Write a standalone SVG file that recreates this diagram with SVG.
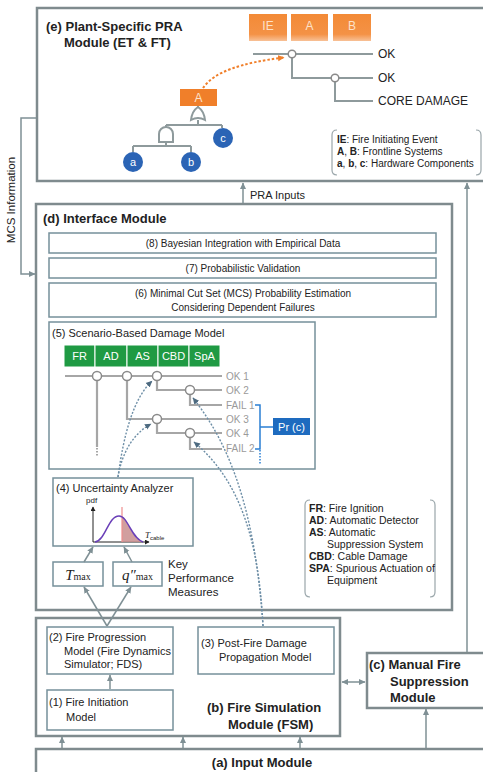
<svg xmlns="http://www.w3.org/2000/svg" width="483" height="772" viewBox="0 0 483 772">
<defs>
<style>
text{font-family:"Liberation Sans",Arial,sans-serif;fill:#222}
.mod{fill:none;stroke:#7f8b8e;stroke-width:2.5}
.box{fill:#fff;stroke:#76909a;stroke-width:1.5}
.ttl{font-weight:bold;font-size:13px}
.t10{font-size:10px}
.t11{font-size:11px}
.conn{fill:none;stroke:#7f9095;stroke-width:1.5}
.et{fill:none;stroke:#8e9a9c;stroke-width:2}
.et5{fill:none;stroke:#a6a6a6;stroke-width:2.2}
.nd{fill:#fff;stroke:#8a8a8a;stroke-width:1.5}
.dash{fill:none;stroke:#6d8ea6;stroke-width:1.4;stroke-dasharray:2 1.6}
.lbl5{font-size:10px;fill:#9a9a9a}
.grn{fill:#1f9a43;stroke:#fff;stroke-width:1}
.gt{font-size:11px;fill:#fff;text-anchor:middle}
.org{fill:url(#og)}
.ot{font-size:12px;fill:#fde1c9;text-anchor:middle}
.bc{fill:#2b64b5}
.bt{font-size:11px;fill:#fff;text-anchor:middle}
.brk{fill:none;stroke:#9aa6aa;stroke-width:1.2}
.ser{font-family:"Liberation Serif","Times New Roman",serif;font-style:italic}
</style>
<linearGradient id="og" x1="0" y1="0" x2="0" y2="1">
<stop offset="0" stop-color="#f38a36"/><stop offset="0.75" stop-color="#f49246"/><stop offset="1" stop-color="#f8c197"/>
</linearGradient>
<marker id="ah" markerWidth="7" markerHeight="7" refX="6" refY="3.5" orient="auto" markerUnits="userSpaceOnUse">
<path d="M0,0.5 L6.5,3.5 L0,6.5 z" fill="#7f9095"/>
</marker>
<marker id="ahs" markerWidth="7" markerHeight="7" refX="6" refY="3.5" orient="auto-start-reverse" markerUnits="userSpaceOnUse">
<path d="M0,0.5 L6.5,3.5 L0,6.5 z" fill="#7f9095"/>
</marker>
<marker id="ahd" markerWidth="7" markerHeight="7" refX="6" refY="3.5" orient="auto" markerUnits="userSpaceOnUse">
<path d="M0,0.5 L6.5,3.5 L0,6.5 z" fill="#4d6a80"/>
</marker>
<marker id="aho" markerWidth="7" markerHeight="7" refX="6" refY="3.5" orient="auto" markerUnits="userSpaceOnUse">
<path d="M0,0.5 L6.5,3.5 L0,6.5 z" fill="#f07f2a"/>
</marker>
<marker id="ahk" markerWidth="5" markerHeight="5" refX="4" refY="2.5" orient="auto" markerUnits="userSpaceOnUse">
<path d="M0,0 L4.5,2.5 L0,5 z" fill="#222"/>
</marker>
</defs>
<rect width="483" height="772" fill="#fff"/>

<!-- (e) module -->
<g id="module-e">
<rect class="mod" x="37" y="8" width="460" height="173"/>
<text class="ttl" x="46" y="31">(e) Plant-Specific PRA</text>
<text class="ttl" x="64" y="47">Module (ET &amp; FT)</text>
<g id="et-headers">
<rect class="org" x="249" y="14" width="38" height="27"/><text class="ot" x="268" y="30">IE</text>
<rect class="org" x="291" y="14" width="37" height="27"/><text class="ot" x="309.5" y="30">A</text>
<rect class="org" x="333" y="14" width="38" height="27"/><text class="ot" x="352" y="30">B</text>
</g>
<g id="event-tree">
<path class="et" d="M253,54 H373 M292,54 V78 H373 M335,78 V101 H373"/>
<circle class="nd" cx="292" cy="54" r="3.8"/>
<circle class="nd" cx="335" cy="78" r="3.8"/>
<text x="378" y="58" font-size="12">OK</text>
<text x="378" y="82" font-size="12">OK</text>
<text x="378" y="105" font-size="12">CORE DAMAGE</text>
</g>
<g id="fault-tree">
<rect x="180" y="89" width="37" height="17" fill="#f07f2a"/>
<text class="ot" x="198.5" y="102">A</text>
<path class="et" d="M198,106 V107 M198,120 V125 M166,125 H222 M166,125 V128 M222,125 V128 M166,142 V146 M133,146 H191 M133,146 V152 M191,146 V152"/>
<path d="M191,120 Q198,116 205,120 Q204,111 198,107 Q192,111 191,120 Z" fill="#fff" stroke="#8e9a9c" stroke-width="2"/>
<path d="M159,142 V134 A7,7 0 0 1 173,134 V142 Z" fill="#fff" stroke="#8e9a9c" stroke-width="2"/>
<circle class="bc" cx="133" cy="162" r="10"/><text class="bt" x="133" y="166">a</text>
<circle class="bc" cx="191" cy="162" r="10"/><text class="bt" x="191" y="166">b</text>
<circle class="bc" cx="223" cy="138" r="10"/><text class="bt" x="223" y="142">c</text>
</g>
<path d="M203,88 C214,72 240,63 284,57.5" fill="none" stroke="#f07f2a" stroke-width="2" stroke-dasharray="2.5 2" marker-end="url(#aho)"/>
<g id="legend-e">
<path class="brk" d="M337,130 Q332,130 332,135 V170 Q332,175 337,175 M476,130 Q481,130 481,135 V170 Q481,175 476,175"/>
<text x="337" y="143" font-size="10"><tspan font-weight="bold">IE</tspan>: Fire Initiating Event</text>
<text x="337" y="155" font-size="10"><tspan font-weight="bold">A</tspan>, <tspan font-weight="bold">B</tspan>: Frontline Systems</text>
<text x="337" y="167" font-size="10"><tspan font-weight="bold">a</tspan>, <tspan font-weight="bold">b</tspan>, <tspan font-weight="bold">c</tspan>: Hardware Components</text>
</g>
</g>

<!-- (d) module -->
<g id="module-d">
<rect class="mod" x="36" y="204" width="416" height="406"/>
<text class="ttl" x="43" y="223">(d) Interface Module</text>
<g id="box8"><rect class="box" x="49" y="233" width="387" height="20"/><text class="t10" x="243" y="247" text-anchor="middle">(8) Bayesian Integration with Empirical Data</text></g>
<g id="box7"><rect class="box" x="49" y="258" width="387" height="20"/><text class="t10" x="243" y="272" text-anchor="middle">(7) Probabilistic Validation</text></g>
<g id="box6"><rect class="box" x="49" y="283" width="387" height="34"/><text class="t10" x="243" y="297" text-anchor="middle">(6) Minimal Cut Set (MCS) Probability Estimation</text><text class="t10" x="243" y="311" text-anchor="middle">Considering Dependent Failures</text></g>
<g id="box5">
<rect class="box" x="49" y="322" width="266" height="147"/>
<text class="t11" x="52" y="337">(5) Scenario-Based Damage Model</text>
<rect class="grn" x="64" y="345" width="31" height="22"/><text class="gt" x="79.5" y="360">FR</text>
<rect class="grn" x="95" y="345" width="32" height="22"/><text class="gt" x="111" y="360">AD</text>
<rect class="grn" x="127" y="345" width="31" height="22"/><text class="gt" x="142.5" y="360">AS</text>
<rect class="grn" x="158" y="345" width="31" height="22"/><text class="gt" x="173.5" y="360">CBD</text>
<rect class="grn" x="189" y="345" width="31" height="22"/><text class="gt" x="204.5" y="360">SpA</text>
<path class="et5" d="M65,376 H222 M97,376 V447 M127,376 V419 H222 M157,376 V390 H222 M190,390 V405 H222 M157,419 V433 H222 M190,433 V449 H222"/>
<path d="M97,448 V457" fill="none" stroke="#a6a6a6" stroke-width="2" stroke-dasharray="1.5 1.5"/>
<circle class="nd" cx="97" cy="376" r="4.5"/>
<circle class="nd" cx="127" cy="376" r="4.5"/>
<circle class="nd" cx="157" cy="376" r="4.5"/>
<circle class="nd" cx="190" cy="390" r="4.5"/>
<circle class="nd" cx="157" cy="419" r="4.5"/>
<circle class="nd" cx="190" cy="433" r="4.5"/>
<text class="lbl5" x="226" y="380">OK 1</text>
<text class="lbl5" x="226" y="394">OK 2</text>
<text class="lbl5" x="226" y="409">FAIL 1</text>
<text class="lbl5" x="226" y="423">OK 3</text>
<text class="lbl5" x="226" y="437">OK 4</text>
<text class="lbl5" x="226" y="452">FAIL 2</text>
<path d="M255,405 H260 V449 H255 M260,427 H273" fill="none" stroke="#2a7fd4" stroke-width="1.5"/>
<path d="M260,450 V464" fill="none" stroke="#2a7fd4" stroke-width="1.5" stroke-dasharray="1.5 1.5"/>
<rect x="273" y="418" width="37" height="17" fill="#1e6bbf"/>
<text x="291.5" y="430.5" font-size="11" text-anchor="middle" style="fill:#fff">Pr (c)</text>
</g>
<g id="box4">
<rect class="box" x="53" y="478" width="140" height="68"/>
<text class="t11" x="56" y="492">(4) Uncertainty Analyzer</text>
<path d="M93,542 V507" stroke="#222" stroke-width="1" fill="none" marker-end="url(#ahk)"/>
<path d="M93,542 H149" stroke="#222" stroke-width="1" fill="none" marker-end="url(#ahk)"/>
<text x="86" y="503" font-size="8">pdf</text>
<text x="145" y="538" font-size="9" class="ser">T<tspan font-size="6" dy="1.5" font-style="normal" font-family="Liberation Sans,sans-serif">cable</tspan></text>
<path d="M122,542 V516.5 C128,518 131,538 143,542 Z" fill="#c98e8e" opacity="0.85"/>
<path d="M122,507 V542" stroke="#ef8d8d" stroke-width="1.2"/>
<path d="M95,542 C106,540 108,516 119,516 C128,516 131,538 143,542" fill="none" stroke="#6a3fb8" stroke-width="1.5"/>
</g>
<g id="tmax"><rect class="box" x="53" y="562" width="50" height="24"/><text x="78" y="580" text-anchor="middle" font-size="15" class="ser">T<tspan font-size="10" font-style="normal">max</tspan></text></g>
<g id="qmax"><rect class="box" x="113" y="562" width="49" height="24"/><text x="137.5" y="580" text-anchor="middle" font-size="15" class="ser">q″<tspan font-size="10" font-style="normal">max</tspan></text></g>
<text x="168" y="568" font-size="11.5">Key</text>
<text x="168" y="582" font-size="11.5">Performance</text>
<text x="168" y="596" font-size="11.5">Measures</text>
<g id="legend-d">
<path class="brk" d="M310,500 Q305,500 305,505 V592 Q305,597 310,597 M430,500 Q435,500 435,505 V592 Q435,597 430,597"/>
<text x="309" y="512" font-size="10.5"><tspan font-weight="bold">FR</tspan>: Fire Ignition</text>
<text x="309" y="524" font-size="10.5"><tspan font-weight="bold">AD</tspan>: Automatic Detector</text>
<text x="309" y="536" font-size="10.5"><tspan font-weight="bold">AS</tspan>: Automatic</text>
<text x="327" y="548" font-size="10.5">Suppression System</text>
<text x="309" y="560" font-size="10.5"><tspan font-weight="bold">CBD</tspan>: Cable Damage</text>
<text x="309" y="572" font-size="10.5"><tspan font-weight="bold">SPA</tspan>: Spurious Actuation of</text>
<text x="327" y="584" font-size="10.5">Equipment</text>
</g>
</g>

<!-- (b) module -->
<g id="module-b">
<rect class="mod" x="36" y="618" width="304" height="118"/>
<g id="box2"><rect class="box" x="47" y="627" width="126" height="47"/>
<text class="t11" x="49" y="641">(2) Fire Progression</text>
<text class="t11" x="64" y="655">Model (Fire Dynamics</text>
<text class="t11" x="64" y="668">Simulator; FDS)</text></g>
<g id="box1"><rect class="box" x="47" y="690" width="126" height="40"/>
<text class="t11" x="49" y="706">(1) Fire Initiation</text>
<text class="t11" x="66" y="721">Model</text></g>
<g id="box3"><rect class="box" x="198" y="627" width="136" height="47"/>
<text class="t11" x="201" y="647">(3) Post-Fire Damage</text>
<text class="t11" x="219" y="661">Propagation Model</text></g>
<text class="ttl" x="207" y="712">(b) Fire Simulation</text>
<text class="ttl" x="228" y="729">Module (FSM)</text>
</g>

<g id="module-c">
<rect class="mod" x="367" y="653" width="130" height="55"/>
<text class="ttl" x="369" y="669">(c) Manual Fire</text>
<text class="ttl" x="390" y="686">Suppression</text>
<text class="ttl" x="390" y="702">Module</text>
</g>

<g id="module-a">
<rect class="mod" x="36" y="749" width="461" height="40"/>
<text class="ttl" x="262" y="767" text-anchor="middle">(a) Input Module</text>
</g>

<g id="connectors">
<path class="conn" d="M243,203 V183" marker-end="url(#ah)"/>
<text x="250" y="199" font-size="11">PRA Inputs</text>
<path class="conn" d="M467,652 V183" marker-end="url(#ah)"/>
<path class="conn" d="M36,118 H21 V274 H35" marker-end="url(#ah)"/>
<text x="15" y="200" font-size="11.5" text-anchor="middle" transform="rotate(-90 15 200)">MCS Information</text>
<path class="conn" d="M110,689 V675" marker-end="url(#ah)"/>
<path class="conn" d="M342,682 H365" marker-start="url(#ahs)" marker-end="url(#ah)"/>
<path class="conn" d="M62,748 V737" marker-end="url(#ah)"/>
<path class="conn" d="M183,748 V737" marker-end="url(#ah)"/>
<path class="conn" d="M300,748 V737" marker-end="url(#ah)"/>
<path class="conn" d="M426,748 V709" marker-end="url(#ah)"/>
<path class="conn" d="M107,626 L84,587" marker-end="url(#ah)"/>
<path class="conn" d="M107,626 L131,587" marker-end="url(#ah)"/>
<path class="conn" d="M84,562 L93,547" marker-end="url(#ah)"/>
<path class="conn" d="M132,562 L124,547" marker-end="url(#ah)"/>
<path class="dash" d="M118,477 C124,432 134,398 152,381" marker-end="url(#ahd)"/>
<path class="dash" d="M118,477 C122,452 134,433 151,424" marker-end="url(#ahd)"/>
<path class="dash" d="M263,626 C256,525 236,452 193,398" marker-end="url(#ahd)"/>
<path class="dash" d="M263,626 C259,545 242,482 194,442" marker-end="url(#ahd)"/>
</g>
</svg>
